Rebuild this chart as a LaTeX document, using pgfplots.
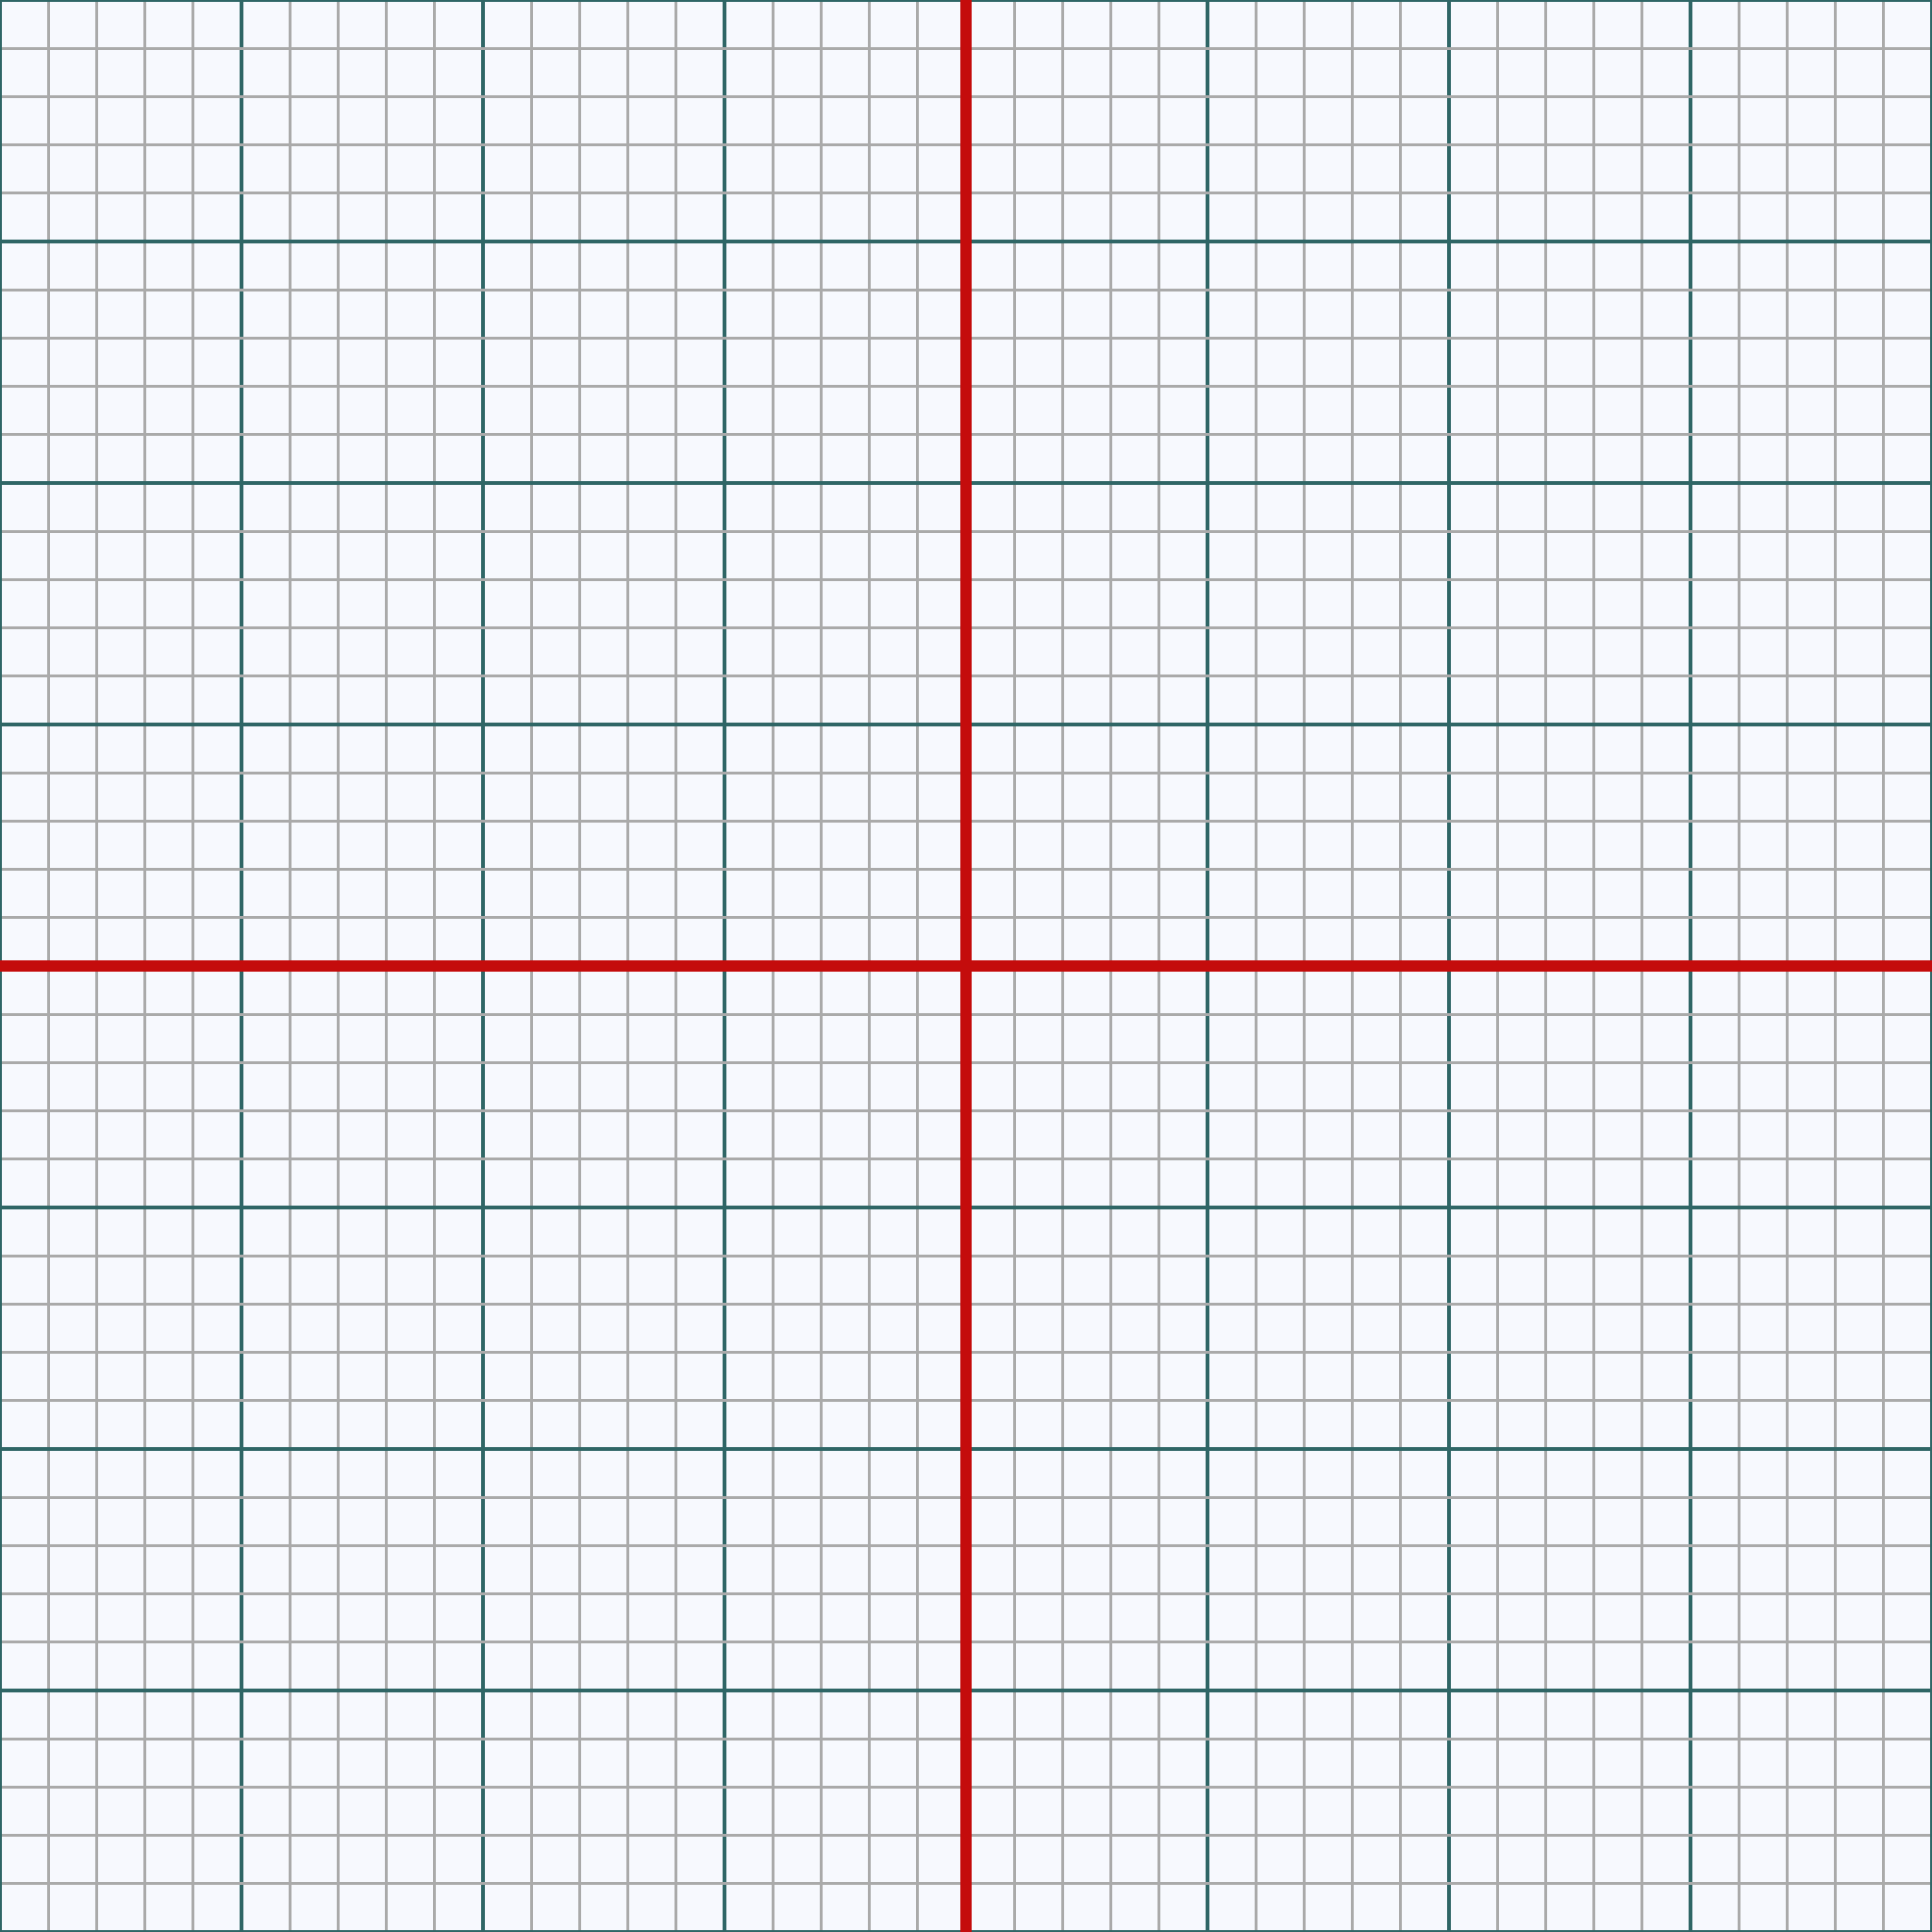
\documentclass[border=0pt]{standalone}
\usepackage{pgfplots}
\pgfplotsset{compat=1.18}
\definecolor{bg}{HTML}{F7F9FE}
\definecolor{minorc}{HTML}{AAAAAA}
\definecolor{majorc}{HTML}{2F6666}
\definecolor{redc}{HTML}{C40C0C}
\begin{document}
\begin{tikzpicture}
\begin{axis}[
  width=10cm, height=10cm, scale only axis,
  xmin=-4, xmax=4, ymin=-4, ymax=4,
  xtick={-4,...,4}, ytick={-4,...,4},
  minor tick num=4,
  grid=both,
  minor grid style={draw=minorc, line width=0.45pt},
  major grid style={draw=majorc, line width=0.45pt},
  xticklabels={}, yticklabels={},
  tick style={draw=none},
  axis line style={draw=majorc, line width=0.6pt},
  axis background/.style={fill=bg},
]
\addplot[draw=redc, line width=1.55pt] coordinates {(-4,0) (4,0)};
\addplot[draw=redc, line width=1.55pt] coordinates {(0,-4) (0,4)};
\end{axis}
\pgfresetboundingbox
\useasboundingbox (current axis.south west) rectangle (current axis.north east);
\end{tikzpicture}
\end{document}
